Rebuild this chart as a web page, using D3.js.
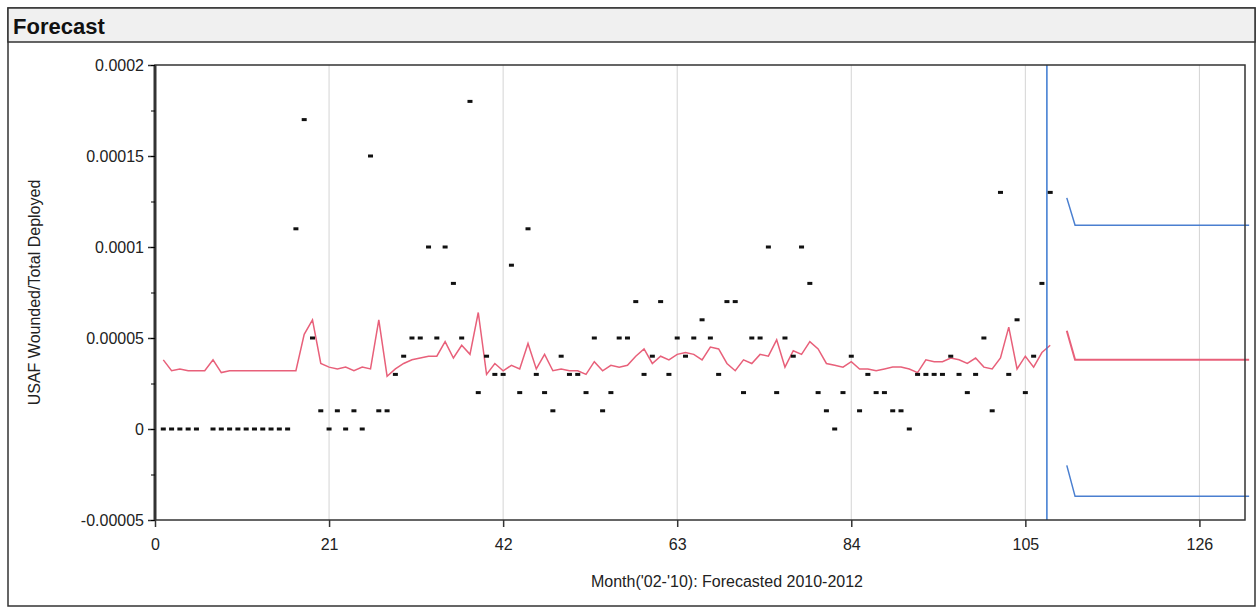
<!DOCTYPE html>
<html><head><meta charset="utf-8">
<script src="https://cdn.jsdelivr.net/npm/d3@7"></script>
<style>
body{margin:0;background:#fff;font-family:Arial,"Liberation Sans",sans-serif;}
</style></head><body>
<svg id="chart" width="1257" height="607"></svg>
<script>
// observed ratio, units of 1e-5, month 1..108 (null = no point)
var actual = [0,0,0,0,0,null,0,0,0,0,0,0,0,0,0,0,
  11,17,5,1,0,1,0,1,0,15,1,1,3,4,5,5,10,5,10,8,5,18,2,4,3,3,9,2,11,3,2,1,4,3,3,2,5,1,2,5,5,7,3,4,
  7,3,5,4,5,6,5,3,7,7,2,5,5,10,2,5,4,10,8,2,1,0,2,4,1,3,2,2,1,1,0,3,3,3,3,4,3,2,3,5,1,13,3,6,2,4,8,13];
// fitted model, months 1..108
var fitted = [3.8,3.2,3.3,3.2,3.2,3.2,3.8,3.1,3.2,3.2,3.2,3.2,3.2,3.2,3.2,3.2,3.2,5.2,6.0,3.6,
  3.4,3.3,3.4,3.2,3.4,3.3,6.0,2.9,3.3,3.6,3.8,3.9,4.0,4.0,4.8,3.9,4.6,4.1,6.4,3.0,
  3.6,3.2,3.5,3.3,4.7,3.3,4.1,3.2,3.3,3.2,3.2,3.0,3.7,3.2,3.5,3.4,3.5,4.0,4.4,3.6,
  4.0,3.8,4.1,4.2,4.1,3.8,4.5,4.4,3.6,3.2,3.8,3.6,4.1,4.0,4.9,3.4,4.3,4.1,4.8,4.4,
  3.6,3.5,3.4,3.7,3.3,3.3,3.2,3.3,3.4,3.4,3.3,3.1,3.8,3.7,3.7,3.9,3.8,3.6,3.9,3.4,
  3.3,3.9,5.6,3.3,4.0,3.4,4.2,4.6];
var forecastX = [110,111,132];
var forecast = [5.4,3.8,3.8];
var upper = [12.7,11.2,11.2];
var lower = [-2.0,-3.7,-3.7];
var forecastStart = 107.6;
var xTicks = [0,21,42,63,84,105,126];
var yTicks = [-5,0,5,10,15,20];
var yLabels = ["-0.00005","0","0.00005","0.0001","0.00015","0.0002"];

var svg = d3.select("#chart");
var W = 1257, H = 607;
svg.append("rect").attr("x",8).attr("y",8).attr("width",W-10).attr("height",H-9)
  .attr("fill","#fff").attr("stroke","#333").attr("stroke-width",1.5);
svg.append("rect").attr("x",8).attr("y",8).attr("width",W-10).attr("height",34)
  .attr("fill","#f0f0f0").attr("stroke","#333").attr("stroke-width",1.5);
svg.append("text").attr("x",13).attr("y",34).text("Forecast")
  .attr("font-size",22).attr("font-weight","bold").attr("fill","#111");

var m = {l:155, r:1245, t:65, b:520};
var x = d3.scaleLinear().domain([0,131.5]).range([m.l,m.r]);
var y = d3.scaleLinear().domain([-5,20]).range([m.b,m.t]);

var g = svg.append("g");
g.selectAll(".grid").data(xTicks.slice(1)).enter().append("line")
  .attr("x1",d=>x(d)).attr("x2",d=>x(d)).attr("y1",m.t).attr("y2",m.b)
  .attr("stroke","#d4d4d4").attr("stroke-width",1);

var line = d3.line().defined(d=>d[1]!=null).x(d=>x(d[0])).y(d=>y(d[1]));
g.append("path").datum(fitted.map((v,i)=>[i+1,v])).attr("d",line)
  .attr("fill","none").attr("stroke","#e8607a").attr("stroke-width",1.5);
g.append("path").datum(forecast.map((v,i)=>[forecastX[i],v])).attr("d",line)
  .attr("fill","none").attr("stroke","#e8607a").attr("stroke-width",2);
[upper,lower].forEach(function(s){
  g.append("path").datum(s.map((v,i)=>[forecastX[i],v])).attr("d",line)
    .attr("fill","none").attr("stroke","#4a7fd0").attr("stroke-width",1.5);
});
g.append("line").attr("x1",x(forecastStart)).attr("x2",x(forecastStart))
  .attr("y1",m.t).attr("y2",m.b).attr("stroke","#3a78d0").attr("stroke-width",1.5);

g.selectAll(".pt").data(actual.map((v,i)=>[i+1,v]).filter(d=>d[1]!=null)).enter().append("rect")
  .attr("x",d=>x(d[0])-2.5).attr("y",d=>y(d[1])-1.5).attr("width",5).attr("height",3).attr("fill","#111");

svg.append("rect").attr("x",m.l).attr("y",m.t).attr("width",m.r-m.l).attr("height",m.b-m.t)
  .attr("fill","none").attr("stroke","#333").attr("stroke-width",1.5);
svg.append("line").attr("x1",m.l).attr("x2",m.l).attr("y1",m.t).attr("y2",m.b)
  .attr("stroke","#333").attr("stroke-width",3);

var yAxis = d3.axisLeft(y).tickValues(yTicks).tickSize(7)
  .tickFormat((d,i)=>yLabels[i]);
var ya = svg.append("g").attr("transform","translate("+m.l+",0)").call(yAxis);
svg.append("g").attr("transform","translate("+m.l+",0)")
  .call(d3.axisLeft(y).tickValues(d3.range(-5,20.1,2.5)).tickSize(4).tickFormat(""))
  .select(".domain").remove();
var xa = svg.append("g").attr("transform","translate(0,"+m.b+")")
  .call(d3.axisBottom(x).tickValues(xTicks).tickSize(7));
[ya,xa].forEach(a=>{a.select(".domain").remove();
  a.selectAll("text").attr("font-size",16).attr("fill","#222").attr("font-family","Arial,'Liberation Sans',sans-serif");
  a.selectAll("line").attr("stroke","#333").attr("stroke-width",1.5);});
ya.selectAll("text").attr("dx",-1);
xa.selectAll("text").attr("dy",20);

svg.append("text").attr("transform","translate(40,"+((m.t+m.b)/2)+") rotate(-90)")
  .attr("text-anchor","middle").attr("font-size",16).attr("fill","#222")
  .text("USAF Wounded/Total Deployed");
svg.append("text").attr("x",727).attr("y",587).attr("text-anchor","middle")
  .attr("font-size",16).attr("fill","#222").text("Month('02-'10): Forecasted 2010-2012");
</script></body></html>
